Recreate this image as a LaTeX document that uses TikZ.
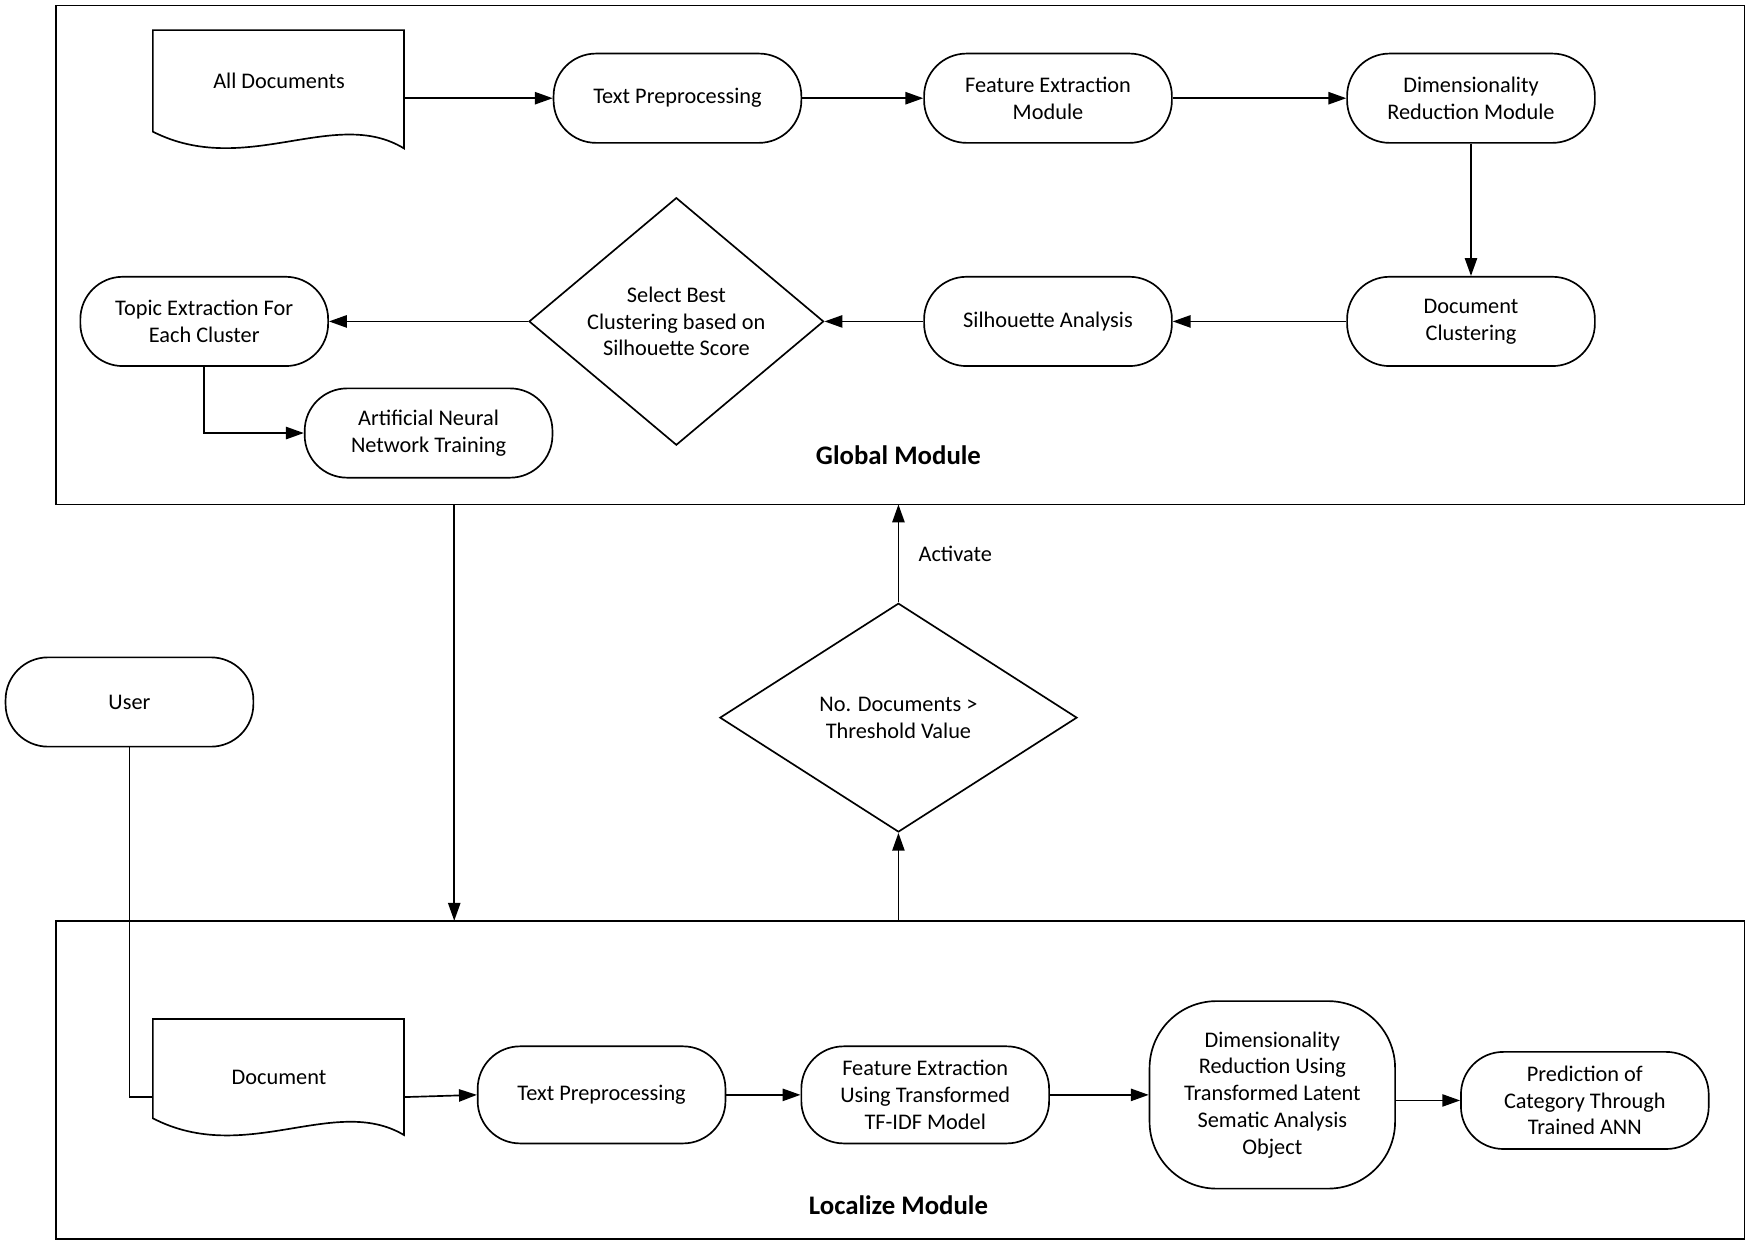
\documentclass[tikz,border=0pt]{standalone}
\usepackage{fontspec}
\setmainfont{Carlito}
\usetikzlibrary{arrows.meta,shapes.geometric}
\begin{document}
\begin{tikzpicture}[x=1pt,y=-1pt,
  every node/.style={font=\fontsize{20}{24}\selectfont, align=center},
  proc/.style={draw, line width=1.5pt, rounded corners=38pt, minimum width=222pt, minimum height=80pt, inner sep=2pt},
  dec/.style={draw, line width=1.5pt, diamond, inner sep=0pt},
  arr/.style={line width=1.5pt, -{Triangle[length=16pt,width=11pt]}},
  ln/.style={line width=1.5pt},
  frame/.style={line width=1.5pt}]
\useasboundingbox (0,0) rectangle (1568,1115);
% frames
\draw[frame] (50,5) rectangle (1563,452);
\draw[frame] (50,825) rectangle (1563,1110);
\coordinate (gbot) at (407,452);
\coordinate (gbot2) at (805,452);
\coordinate (ltop) at (407,825);
\coordinate (ltop2) at (805,825);
% global module
\draw[ln] (137,27) -- (362,27) -- (362,133) .. controls (300,95) and (220,160) .. (137,118) -- cycle;
\node (alldocs) at (250,72) {All Documents};
\node[proc] (tp) at (607,88) {Text Preprocessing};
\node[proc] (fe) at (939,88) {Feature Extraction\\Module};
\node[proc] (dr) at (1318,88) {Dimensionality\\Reduction Module};
\node[proc] (dc) at (1318,288) {Document\\Clustering};
\node[proc] (sa) at (939,288) {Silhouette Analysis};
\node[dec, minimum width=264pt, minimum height=200pt] (sel) at (606,288) {Select Best\\Clustering based on\\Silhouette Score};
\node[proc] (te) at (183,288) {Topic Extraction For\\Each Cluster};
\node[proc] (ann) at (384,388) {Artificial Neural\\Network Training};
\node[font=\fontsize{24}{28}\selectfont\bfseries] (gm) at (805,408) {Global Module};
\draw[arr] (362,88) -- (tp.west);
\draw[arr] (tp) -- (fe);
\draw[arr] (fe) -- (dr);
\draw[arr] (dr) -- (dc);
\draw[arr] (dc) -- (sa);
\draw[arr] (sa) -- (sel);
\draw[arr] (sel) -- (te);
\draw[arr] (te.south) |- (ann.west);
% middle
\node[dec, minimum width=320pt, minimum height=205pt] (nd) at (805,643) {No. Documents >\\Threshold Value};
\draw[arr] (gbot) -- (ltop);
\draw[arr] (nd.north) -- node[right=14pt, pos=0.5] {Activate} (gbot2);
\draw[arr] (ltop2) -- (nd.south);
\node[proc] (user) at (116,629) {User};
% localize
\draw[ln] (137,913) -- (362,913) -- (362,1017) .. controls (300,980) and (220,1045) .. (137,1002) -- cycle;
\node (doc) at (250,965) {Document};
\node[proc, minimum height=87pt] (tp2) at (539,981) {Text Preprocessing};
\node[proc, minimum height=87pt] (fe2) at (829,981) {Feature Extraction\\Using Transformed\\TF-IDF Model};
\node[proc, minimum width=220pt, minimum height=168pt, rounded corners=60pt] (dr2) at (1140,981) {Dimensionality\\Reduction Using\\Transformed Latent\\Sematic Analysis\\Object};
\node[proc, minimum height=87pt] (pr) at (1420,986) {Prediction of\\Category Through\\Trained ANN};
\node[font=\fontsize{24}{28}\selectfont\bfseries] (lm) at (805,1080) {Localize Module};
\draw[ln] (user.south) -- (116,983) -- (137,983);
\draw[arr] (362,983) -- (tp2.west);
\draw[arr] (tp2) -- (fe2);
\draw[arr] (fe2) -- (dr2);
\draw[arr] (dr2.east |- pr.west) -- (pr.west);
\end{tikzpicture}
\end{document}
